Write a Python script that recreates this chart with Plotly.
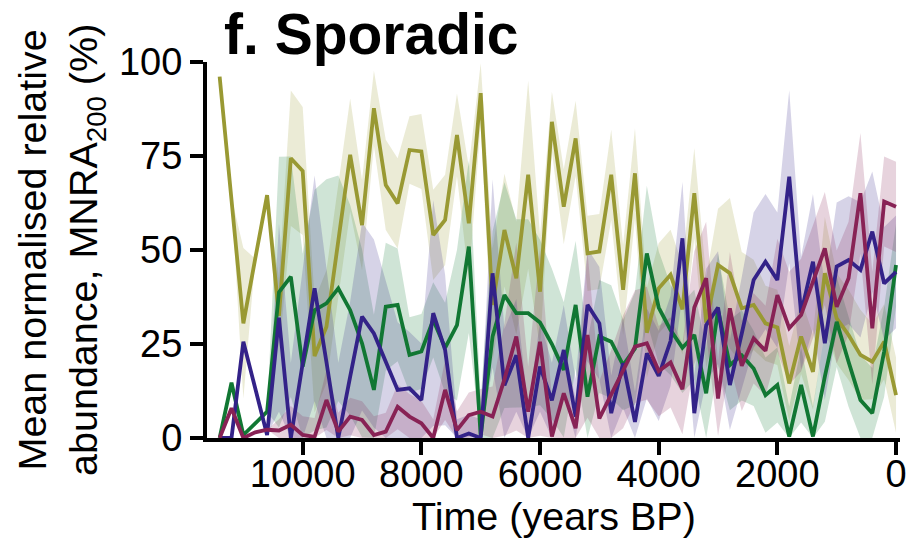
import plotly.graph_objects as go

# Time bins (years BP), 200-year steps from 11400 to 0
years = [11400 - 200 * i for i in range(58)]

olive = [96.1, 64.0, 30.5, 47.7, 64.6, 32.5, 74.4, 71.0, 21.8, 29.6,
         52.5, 75.3, 56.6, 87.7, 67.3, 62.4, 76.6, 76.2, 54.0, 58.0,
         80.6, 57.1, 91.7, 35.4, 55.3, 42.5, 70.0, 38.9, 84.1, 61.5,
         79.7, 49.1, 49.6, 70.0, 39.4, 70.4, 28.0, 39.8, 43.4, 34.2,
         65.1, 30.7, 46.0, 43.8, 34.5, 35.4, 30.5, 29.4, 14.5, 27.0,
         17.6, 43.8, 31.8, 27.4, 22.1, 20.3, 25.6, 11.4]
olive_sd = [0, 0, 20, 0, 0, 10, 18, 17, 15, 15,
            15, 15, 12, 10, 12, 12, 9, 10, 12, 12,
            11, 15, 8, 15, 15, 15, 25, 15, 8, 10,
            10, 10, 10, 12, 12, 12, 12, 12, 12, 12,
            12, 12, 15, 20, 15, 12, 10, 10, 10, 10,
            10, 15, 12, 12, 12, 10, 10, 10]

green = [0.0, 14.7, 0.8, 3.8, 7.0, 38.8, 42.9, 19.0, 34.0, 35.8,
         39.8, 34.0, 25.2, 12.8, 34.9, 35.4, 22.1, 23.0, 31.4, 24.0,
         30.0, 50.9, 0.4, 27.0, 38.0, 33.2, 33.2, 30.7, 25.0, 18.1,
         35.4, 11.0, 27.0, 25.6, 19.4, 23.8, 49.1, 34.7, 28.7, 24.0,
         27.4, 11.9, 34.0, 19.4, 22.0, 18.5, 11.4, 14.1, 0.4, 14.1,
         0.4, 16.3, 30.9, 20.3, 10.1, 6.6, 23.0, 46.0]
green_sd = [0, 0, 0, 0, 0, 36, 32, 30, 32, 33,
            30, 28, 25, 20, 17, 15, 10, 10, 10, 12,
            20, 23, 10, 28, 30, 25, 25, 22, 20, 18,
            17, 15, 15, 15, 12, 15, 18, 15, 12, 12,
            12, 12, 15, 12, 12, 10, 10, 10, 8, 10,
            8, 12, 12, 12, 12, 12, 12, 11]

blue = [0.0, 0.0, 25.6, 13.0, 0.8, 32.0, 0.0, 19.9, 39.8, 20.2,
        0.0, 16.3, 32.3, 27.8, 20.0, 12.8, 13.2, 10.1, 33.2, 23.4,
        0.0, 1.2, 0.0, 43.8, 14.0, 22.0, 0.0, 19.0, 10.0, 23.4,
        5.7, 35.4, 30.5, 6.6, 19.9, 4.3, 22.5, 16.5, 25.8, 53.1,
        6.6, 30.0, 34.7, 14.1, 27.8, 42.0, 46.9, 42.0, 69.5, 33.2,
        46.9, 25.2, 45.6, 47.3, 44.7, 54.9, 41.1, 44.2]
blue_sd = [0, 0, 0, 0, 0, 25, 20, 25, 30, 25,
           20, 20, 25, 25, 22, 18, 15, 15, 30, 20,
           5, 5, 5, 25, 15, 15, 8, 12, 10, 12,
           10, 15, 15, 10, 12, 8, 12, 12, 12, 15,
           10, 15, 15, 12, 15, 18, 18, 18, 23, 15,
           18, 15, 17, 17, 18, 16, 15, 15]

purple = [0.0, 7.9, 0.0, 1.5, 2.2, 2.0, 3.5, 0.8, 0.3, 10.1,
          1.7, 5.7, 4.8, 0.8, 1.7, 8.3, 5.7, 3.9, 0.0, 12.8,
          2.1, 6.1, 7.0, 5.7, 15.6, 27.0, 7.0, 25.6, 0.4, 11.9,
          2.6, 27.4, 5.2, 11.4, 17.6, 24.3, 25.2, 17.8, 20.1, 13.0,
          34.7, 42.5, 10.5, 34.5, 19.2, 26.5, 23.2, 38.0, 29.2, 32.7,
          41.6, 50.4, 34.9, 42.5, 65.1, 29.2, 62.9, 61.5]
purple_sd = [0, 0, 0, 0, 0, 3, 5, 5, 5, 8,
             5, 5, 5, 5, 5, 6, 6, 6, 5, 8,
             5, 6, 6, 8, 15, 25, 12, 25, 10, 12,
             8, 22, 10, 12, 15, 15, 15, 12, 12, 12,
             15, 15, 10, 15, 12, 12, 12, 15, 15, 15,
             15, 15, 15, 15, 16, 15, 12, 12]

series = [
    ("olive", olive, olive_sd, (153, 153, 51)),
    ("green", green, green_sd, (17, 119, 51)),
    ("blue", blue, blue_sd, (51, 34, 136)),
    ("purple", purple, purple_sd, (136, 34, 85)),
]

fig = go.Figure()
for name, vals, sd, (r, g, b) in series:
    upper = [min(100, v + s) for v, s in zip(vals, sd)]
    lower = [max(0, v - s) for v, s in zip(vals, sd)]
    fig.add_trace(go.Scatter(
        x=years + years[::-1], y=upper + lower[::-1],
        fill="toself", fillcolor=f"rgba({r},{g},{b},0.2)",
        line=dict(width=0), mode="lines", hoverinfo="skip", showlegend=False))
for name, vals, sd, (r, g, b) in series:
    fig.add_trace(go.Scatter(
        x=years, y=vals, mode="lines", name=name,
        line=dict(color=f"rgb({r},{g},{b})", width=3.8), showlegend=False))

font_fam = "Liberation Sans, Arial, sans-serif"
fig.update_layout(
    width=915, height=543,
    margin=dict(l=207, r=15, t=62, b=105),
    paper_bgcolor="white", plot_bgcolor="white",
    font=dict(family=font_fam, color="black"),
    xaxis=dict(
        range=[11613, -67], tickvals=[0, 2000, 4000, 6000, 8000, 10000],
        ticktext=["0", "2000", "4000", "6000", "8000", "10000"],
        showline=True, linewidth=4, linecolor="black",
        ticks="outside", ticklen=13, tickwidth=4, tickcolor="black",
        showgrid=False, zeroline=False, tickfont=dict(size=38),
        automargin=False, ticklabelstandoff=-14,
    ),
    yaxis=dict(
        range=[0, 100], tickvals=[0, 25, 50, 75, 100],
        showline=True, linewidth=4, linecolor="black",
        ticks="outside", ticklen=13, tickwidth=4, tickcolor="black",
        showgrid=False, zeroline=False, tickfont=dict(size=38),
        automargin=False,
    ),
    annotations=[
        dict(text="<b>f. Sporadic</b>", x=0.0216, y=1.074, xref="paper", yref="paper",
             xanchor="left", yanchor="middle", showarrow=False,
             font=dict(size=57, family=font_fam)),
        dict(text="Mean normalised relative<br>abundance, MNRA<sub>200</sub> (%)",
             x=-0.2107, y=0.5, xref="paper", yref="paper", textangle=-90,
             xanchor="center", yanchor="middle", showarrow=False,
             font=dict(size=39.5, family=font_fam)),
        dict(text="Time (years BP)", x=0.5, y=-0.2074, xref="paper", yref="paper",
             xanchor="center", yanchor="middle", showarrow=False,
             font=dict(size=39.5, family=font_fam)),
    ],
)

fig.write_html("out.html")
